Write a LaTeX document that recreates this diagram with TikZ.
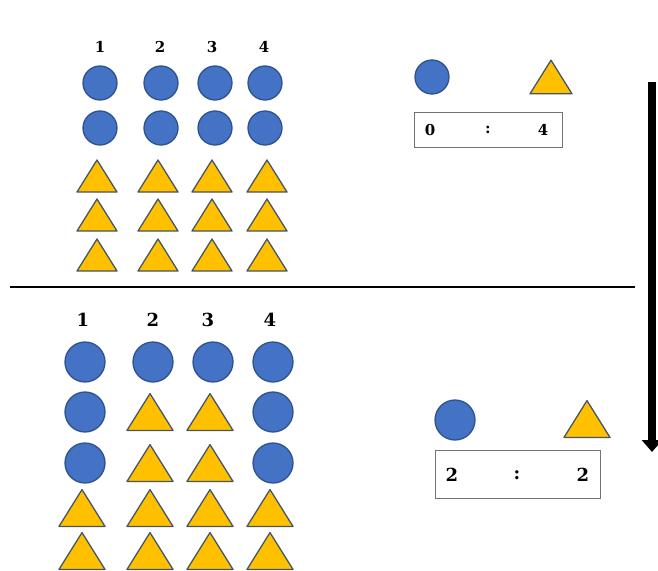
\documentclass[tikz,border=0pt]{standalone}
\usepackage{fontspec}
\setmainfont{DejaVu Serif}
\usepackage{tikz}
\usetikzlibrary{arrows.meta, positioning, calc}
\definecolor{dotblue}{RGB}{68,114,196}
\definecolor{dotedge}{RGB}{47,82,143}
\definecolor{triyellow}{RGB}{255,192,0}
\definecolor{triedge}{RGB}{68,84,106}

\tikzset{
  dot/.style={fill=dotblue, draw=dotedge, line width=1.3pt},
  tri/.style={fill=triyellow, draw=triedge, line width=1.3pt, line join=round},
  colnum/.style={font=\bfseries\fontsize{15}{15}\selectfont},
  bignum/.style={font=\bfseries\fontsize{18}{18}\selectfont},
  ratiobox/.style={draw=black!55, line width=1pt, inner sep=0pt},
}
% triangle: centre x, centre y, half width
\newcommand{\trishape}[3]{\draw[tri] (#1-#3,#2+0.8*#3) -- (#1,#2-0.8*#3) -- (#1+#3,#2+0.8*#3) -- cycle;}

\begin{document}
\begin{tikzpicture}[x=1pt, y=-1pt]
\useasboundingbox (0,0) rectangle (658,570);

% top: before
\foreach \x [count=\i] in {100,160,212,264}
  \node[colnum] (topnum\i) at (\x,47) {\i};
\foreach \x in {100,161,215,265}
  \foreach \y in {83,128}
    \draw[dot] (\x,\y) circle (17pt);
\foreach \x in {97,158,212,267}
  \foreach \y in {176,215,255}
    {\trishape{\x}{\y}{20}}

\draw[dot] (432,77) circle (17pt);
\trishape{551}{77}{21}
\node[ratiobox, minimum width=148pt, minimum height=35pt] (topratio) at (488,129.5) {};
\node[colnum] (topleft) at (430,130) {0};
\node[colnum] (topcolon) at (488,130) {:};
\node[colnum] (topright) at (543,130) {4};

% dividing line and arrow
\coordinate (splitl) at (10,287);
\coordinate (splitr) at (635,287);
\draw[line width=1.5pt] (splitl) -- (splitr);
\coordinate (arrtop) at (652,82);
\coordinate (arrbot) at (652,452);
\draw[line width=8pt, -{Triangle[width=20pt, length=12pt]}] (arrtop) -- (arrbot);

% bottom: after
\foreach \x [count=\i] in {83,153,208,270}
  \node[bignum] (botnum\i) at (\x,320) {\i};
\foreach \x in {85,153,213,273}
  \draw[dot] (\x,362) circle (20pt);
\foreach \x in {85,273}
  \foreach \y in {412,463}
    \draw[dot] (\x,\y) circle (20pt);
\foreach \x in {150,210}
  \foreach \y in {412,463}
    {\trishape{\x}{\y}{23}}
\foreach \x in {82,150,210,270}
  \foreach \y in {508,551}
    {\trishape{\x}{\y}{23}}

\draw[dot] (455,420) circle (20pt);
\trishape{587}{419}{23}
\node[ratiobox, minimum width=165pt, minimum height=48pt] (botratio) at (517.5,474) {};
\node[bignum] (botleft) at (452,475) {2};
\node[bignum] (botcolon) at (517,475) {:};
\node[bignum] (botright) at (583,475) {2};
\end{tikzpicture}
\end{document}
